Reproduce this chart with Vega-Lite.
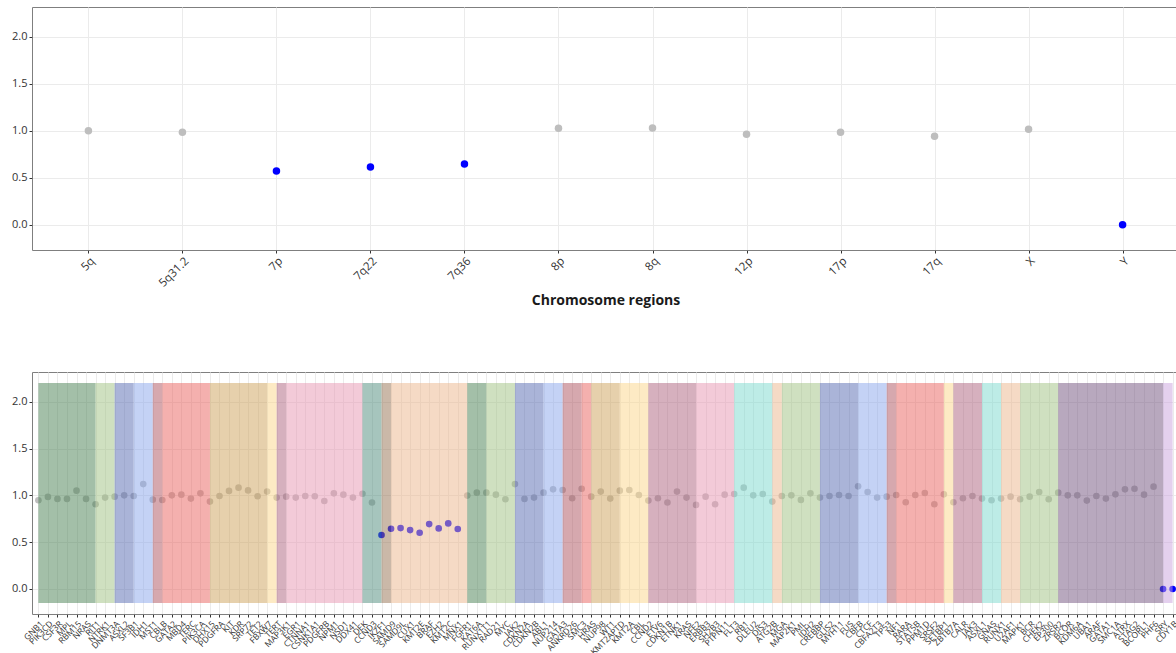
{
  "$schema": "https://vega.github.io/schema/vega-lite/v6.json",
  "padding": {"left": 5, "top": 6, "right": 0, "bottom": 0},
  "background": "white",
  "spacing": 62,
  "datasets": {
    "regions": [
      {"region": "5q", "cn": 1.0, "status": "normal"},
      {"region": "5q31.2", "cn": 0.985, "status": "normal"},
      {"region": "7p", "cn": 0.573, "status": "altered"},
      {"region": "7q22", "cn": 0.616, "status": "altered"},
      {"region": "7q36", "cn": 0.647, "status": "altered"},
      {"region": "8p", "cn": 1.027, "status": "normal"},
      {"region": "8q", "cn": 1.03, "status": "normal"},
      {"region": "12p", "cn": 0.964, "status": "normal"},
      {"region": "17p", "cn": 0.985, "status": "normal"},
      {"region": "17q", "cn": 0.943, "status": "normal"},
      {"region": "X", "cn": 1.017, "status": "normal"},
      {"region": "Y", "cn": 0.0, "status": "altered"}
    ],
    "genes": [
      {"gene": "GNB1", "cn": 0.947, "status": "normal"},
      {"gene": "PIK3CD", "cn": 0.983, "status": "normal"},
      {"gene": "CSF3R", "cn": 0.962, "status": "normal"},
      {"gene": "MPL", "cn": 0.962, "status": "normal"},
      {"gene": "RBM15", "cn": 1.05, "status": "normal"},
      {"gene": "NRAS", "cn": 0.962, "status": "normal"},
      {"gene": "RIT1", "cn": 0.905, "status": "normal"},
      {"gene": "NTRK1", "cn": 0.976, "status": "normal"},
      {"gene": "DNMT3A", "cn": 0.986, "status": "normal"},
      {"gene": "ASXL2", "cn": 1.0, "status": "normal"},
      {"gene": "SF3B1", "cn": 0.993, "status": "normal"},
      {"gene": "IDH1", "cn": 1.12, "status": "normal"},
      {"gene": "MST1", "cn": 0.954, "status": "normal"},
      {"gene": "CBLB", "cn": 0.95, "status": "normal"},
      {"gene": "GATA2", "cn": 1.0, "status": "normal"},
      {"gene": "MBD4", "cn": 1.007, "status": "normal"},
      {"gene": "TERC", "cn": 0.965, "status": "normal"},
      {"gene": "PIK3CA", "cn": 1.021, "status": "normal"},
      {"gene": "DHX15", "cn": 0.933, "status": "normal"},
      {"gene": "PDGFRA", "cn": 0.993, "status": "normal"},
      {"gene": "KIT", "cn": 1.047, "status": "normal"},
      {"gene": "KDR", "cn": 1.082, "status": "normal"},
      {"gene": "SRP72", "cn": 1.053, "status": "normal"},
      {"gene": "TET2", "cn": 0.99, "status": "normal"},
      {"gene": "FBXW7", "cn": 1.04, "status": "normal"},
      {"gene": "TERT", "cn": 0.976, "status": "normal"},
      {"gene": "MAP3K1", "cn": 0.986, "status": "normal"},
      {"gene": "EGR1", "cn": 0.976, "status": "normal"},
      {"gene": "CTNNA1", "cn": 0.993, "status": "normal"},
      {"gene": "CSNK1A1", "cn": 0.99, "status": "normal"},
      {"gene": "PDGFRB", "cn": 0.94, "status": "normal"},
      {"gene": "NPM1", "cn": 1.021, "status": "normal"},
      {"gene": "NSD1", "cn": 1.007, "status": "normal"},
      {"gene": "DDX41", "cn": 0.976, "status": "normal"},
      {"gene": "DEK", "cn": 1.017, "status": "normal"},
      {"gene": "CCND3", "cn": 0.923, "status": "normal"},
      {"gene": "IKZF1", "cn": 0.576, "status": "altered"},
      {"gene": "SAMD9", "cn": 0.643, "status": "altered"},
      {"gene": "SAMD9L", "cn": 0.65, "status": "altered"},
      {"gene": "CUX1", "cn": 0.629, "status": "altered"},
      {"gene": "KMT2E", "cn": 0.601, "status": "altered"},
      {"gene": "BRAF", "cn": 0.693, "status": "altered"},
      {"gene": "EZH2", "cn": 0.647, "status": "altered"},
      {"gene": "KMT2C", "cn": 0.7, "status": "altered"},
      {"gene": "MNX1", "cn": 0.64, "status": "altered"},
      {"gene": "FGFR1", "cn": 0.997, "status": "normal"},
      {"gene": "KAT6A", "cn": 1.029, "status": "normal"},
      {"gene": "RUNX1T1", "cn": 1.029, "status": "normal"},
      {"gene": "RAD21", "cn": 1.007, "status": "normal"},
      {"gene": "MYC", "cn": 0.958, "status": "normal"},
      {"gene": "JAK2", "cn": 1.12, "status": "normal"},
      {"gene": "CDKN2A", "cn": 0.962, "status": "normal"},
      {"gene": "CDKN2B", "cn": 0.976, "status": "normal"},
      {"gene": "ABL1", "cn": 1.029, "status": "normal"},
      {"gene": "NUP214", "cn": 1.064, "status": "normal"},
      {"gene": "GATA3", "cn": 1.057, "status": "normal"},
      {"gene": "ANKRD26", "cn": 0.969, "status": "normal"},
      {"gene": "SMC3", "cn": 1.071, "status": "normal"},
      {"gene": "HRAS", "cn": 0.986, "status": "normal"},
      {"gene": "NUP98", "cn": 1.04, "status": "normal"},
      {"gene": "WT1", "cn": 0.965, "status": "normal"},
      {"gene": "KMT2APTD", "cn": 1.05, "status": "normal"},
      {"gene": "KMT2A", "cn": 1.057, "status": "normal"},
      {"gene": "CBL", "cn": 1.004, "status": "normal"},
      {"gene": "CCND2", "cn": 0.944, "status": "normal"},
      {"gene": "ETV6", "cn": 0.969, "status": "normal"},
      {"gene": "CDKN1B", "cn": 0.923, "status": "normal"},
      {"gene": "ETNK1", "cn": 1.04, "status": "normal"},
      {"gene": "KRAS", "cn": 0.976, "status": "normal"},
      {"gene": "NFE2", "cn": 0.898, "status": "normal"},
      {"gene": "ERBB3", "cn": 0.986, "status": "normal"},
      {"gene": "SH2B3", "cn": 0.905, "status": "normal"},
      {"gene": "PTPN11", "cn": 1.007, "status": "normal"},
      {"gene": "FLT3", "cn": 1.014, "status": "normal"},
      {"gene": "RB1", "cn": 1.082, "status": "normal"},
      {"gene": "DLEU2", "cn": 1.0, "status": "normal"},
      {"gene": "DIS3", "cn": 1.014, "status": "normal"},
      {"gene": "ATG2B", "cn": 0.933, "status": "normal"},
      {"gene": "MGA", "cn": 0.993, "status": "normal"},
      {"gene": "MAP2K1", "cn": 1.0, "status": "normal"},
      {"gene": "PML", "cn": 0.951, "status": "normal"},
      {"gene": "IDH2", "cn": 1.021, "status": "normal"},
      {"gene": "CREBBP", "cn": 0.976, "status": "normal"},
      {"gene": "GLIS2", "cn": 0.993, "status": "normal"},
      {"gene": "MYH11", "cn": 1.004, "status": "normal"},
      {"gene": "FUS", "cn": 0.993, "status": "normal"},
      {"gene": "CBFB", "cn": 1.096, "status": "normal"},
      {"gene": "CTCF", "cn": 1.036, "status": "normal"},
      {"gene": "CBFA2T3", "cn": 0.976, "status": "normal"},
      {"gene": "TP53", "cn": 0.986, "status": "normal"},
      {"gene": "NF1", "cn": 1.004, "status": "normal"},
      {"gene": "RARA", "cn": 0.926, "status": "normal"},
      {"gene": "STAT5B", "cn": 1.004, "status": "normal"},
      {"gene": "PPM1D", "cn": 1.025, "status": "normal"},
      {"gene": "SRSF2", "cn": 0.905, "status": "normal"},
      {"gene": "SETBP1", "cn": 1.011, "status": "normal"},
      {"gene": "ZBTB7A", "cn": 0.926, "status": "normal"},
      {"gene": "CALR", "cn": 0.969, "status": "normal"},
      {"gene": "JAK3", "cn": 0.993, "status": "normal"},
      {"gene": "ASXL1", "cn": 0.965, "status": "normal"},
      {"gene": "GNAS", "cn": 0.947, "status": "normal"},
      {"gene": "RUNX1", "cn": 0.965, "status": "normal"},
      {"gene": "U2AF1", "cn": 0.986, "status": "normal"},
      {"gene": "MAPK1", "cn": 0.958, "status": "normal"},
      {"gene": "BCR", "cn": 0.986, "status": "normal"},
      {"gene": "CHEK2", "cn": 1.036, "status": "normal"},
      {"gene": "EP300", "cn": 0.958, "status": "normal"},
      {"gene": "ZRSR2", "cn": 1.029, "status": "normal"},
      {"gene": "BCOR", "cn": 1.0, "status": "normal"},
      {"gene": "KDM6A", "cn": 1.0, "status": "normal"},
      {"gene": "UBA1", "cn": 0.944, "status": "normal"},
      {"gene": "ARAF", "cn": 0.993, "status": "normal"},
      {"gene": "GATA1", "cn": 0.965, "status": "normal"},
      {"gene": "SMC1A", "cn": 1.011, "status": "normal"},
      {"gene": "ATRX", "cn": 1.064, "status": "normal"},
      {"gene": "STAG2", "cn": 1.071, "status": "normal"},
      {"gene": "BCORL1", "cn": 1.007, "status": "normal"},
      {"gene": "PHF6", "cn": 1.093, "status": "normal"},
      {"gene": "SRY", "cn": 0.0, "status": "altered"},
      {"gene": "CDY1B", "cn": 0.0, "status": "altered"}
    ],
    "arms": [
      {"arm": "1p", "start": "GNB1", "end": "RIT1", "tone": "green_dark"},
      {"arm": "1q", "start": "RIT1", "end": "DNMT3A", "tone": "green_light"},
      {"arm": "2p", "start": "DNMT3A", "end": "SF3B1", "tone": "blue_dark"},
      {"arm": "2q", "start": "SF3B1", "end": "MST1", "tone": "blue_light"},
      {"arm": "3p", "start": "MST1", "end": "CBLB", "tone": "rose"},
      {"arm": "3q", "start": "CBLB", "end": "DHX15", "tone": "salmon"},
      {"arm": "4p", "start": "DHX15", "end": "FBXW7", "tone": "tan"},
      {"arm": "4q", "start": "FBXW7", "end": "TERT", "tone": "yellow"},
      {"arm": "5p", "start": "TERT", "end": "MAP3K1", "tone": "mauve"},
      {"arm": "5q", "start": "MAP3K1", "end": "DEK", "tone": "pink"},
      {"arm": "6p", "start": "DEK", "end": "IKZF1", "tone": "teal"},
      {"arm": "7p", "start": "IKZF1", "end": "SAMD9", "tone": "brown"},
      {"arm": "7q", "start": "SAMD9", "end": "FGFR1", "tone": "peach"},
      {"arm": "8p", "start": "FGFR1", "end": "RUNX1T1", "tone": "green_dark"},
      {"arm": "8q", "start": "RUNX1T1", "end": "JAK2", "tone": "green_light"},
      {"arm": "9p", "start": "JAK2", "end": "ABL1", "tone": "blue_dark"},
      {"arm": "9q", "start": "ABL1", "end": "GATA3", "tone": "blue_light"},
      {"arm": "10p", "start": "GATA3", "end": "SMC3", "tone": "rose"},
      {"arm": "10q", "start": "SMC3", "end": "HRAS", "tone": "salmon"},
      {"arm": "11p", "start": "HRAS", "end": "KMT2APTD", "tone": "tan"},
      {"arm": "11q", "start": "KMT2APTD", "end": "CCND2", "tone": "yellow"},
      {"arm": "12p", "start": "CCND2", "end": "NFE2", "tone": "mauve"},
      {"arm": "12q", "start": "NFE2", "end": "FLT3", "tone": "pink"},
      {"arm": "13q", "start": "FLT3", "end": "ATG2B", "tone": "cyan"},
      {"arm": "14q", "start": "ATG2B", "end": "MGA", "tone": "peach"},
      {"arm": "15q", "start": "MGA", "end": "CREBBP", "tone": "green_light"},
      {"arm": "16p", "start": "CREBBP", "end": "CBFB", "tone": "blue_dark"},
      {"arm": "16q", "start": "CBFB", "end": "TP53", "tone": "blue_light"},
      {"arm": "17p", "start": "TP53", "end": "NF1", "tone": "rose"},
      {"arm": "17q", "start": "NF1", "end": "SETBP1", "tone": "salmon"},
      {"arm": "18q", "start": "SETBP1", "end": "ZBTB7A", "tone": "yellow"},
      {"arm": "19p", "start": "ZBTB7A", "end": "ASXL1", "tone": "mauve"},
      {"arm": "20q", "start": "ASXL1", "end": "RUNX1", "tone": "cyan"},
      {"arm": "21q", "start": "RUNX1", "end": "MAPK1", "tone": "peach"},
      {"arm": "22q", "start": "MAPK1", "end": "ZRSR2", "tone": "green_light"},
      {"arm": "X", "start": "ZRSR2", "end": "SRY", "tone": "purple"},
      {"arm": "Y", "start": "SRY", "end": "CDY1B", "tone": "lavender"}
    ]
  },
  "vconcat": [
    {
      "width": 1147,
      "height": 243,
      "data": {"name": "regions"},
      "mark": {"type": "point", "filled": true, "opacity": 1, "size": 56},
      "encoding": {
        "x": {
          "field": "region", "type": "nominal", "sort": null,
          "scale": {"type": "point", "padding": 0.6},
          "axis": {"labelAngle": -45, "labelFontSize": 11.5, "labelColor": "#333333", "title": "Chromosome regions", "titleFontSize": 14, "titleFontWeight": "bold", "titleColor": "#1a1a1a", "titlePadding": 5}
        },
        "y": {
          "field": "cn", "type": "quantitative",
          "scale": {"domain": [-0.2675, 2.3175], "nice": false, "zero": false},
          "axis": {"values": [0, 0.5, 1, 1.5, 2], "format": ".1f", "title": null}
        },
        "color": {
          "field": "status", "type": "nominal",
          "scale": {"domain": ["normal", "altered"], "range": ["#bebebe", "#0000ff"]},
          "legend": null
        }
      }
    },
    {
      "width": 1147,
      "height": 242,
      "layer": [
        {
          "data": {"name": "genes"},
          "mark": {"type": "point", "filled": true, "opacity": 1, "size": 44},
          "encoding": {
            "x": {"field": "gene", "type": "nominal"},
            "y": {"field": "cn", "type": "quantitative"},
            "color": {
              "field": "status", "type": "nominal",
              "scale": {"domain": ["normal", "altered"], "range": ["#bebebe", "#0000ff"]},
              "legend": null
            }
          }
        },
        {
          "data": {"name": "arms"},
          "mark": {"type": "rect", "opacity": 0.5},
          "encoding": {
            "x": {"field": "start", "type": "nominal"},
            "x2": {"field": "end"},
            "y": {"datum": -0.15, "type": "quantitative"},
            "y2": {"datum": 2.2},
            "fill": {
              "field": "tone", "type": "nominal", "legend": null,
              "scale": {
                "domain": ["green_dark", "green_light", "blue_dark", "blue_light", "rose", "salmon", "tan", "yellow", "mauve", "pink", "teal", "cyan", "brown", "peach", "purple", "lavender"],
                "range": ["#477F51", "#9FC181", "#5569B1", "#89A5EB", "#AD515D", "#E9615D", "#CDA159", "#FBD589", "#AD617D", "#E795B1", "#4D8B7B", "#7BD9CD", "#957151", "#EBB58B", "#71517D", "#C9A1DD"]
              }
            }
          }
        }
      ],
      "resolve": {"scale": {"color": "independent"}},
      "encoding": {
        "x": {
          "type": "nominal",
          "scale": {
            "type": "point", "padding": 0.67,
            "domain": ["GNB1","PIK3CD","CSF3R","MPL","RBM15","NRAS","RIT1","NTRK1","DNMT3A","ASXL2","SF3B1","IDH1","MST1","CBLB","GATA2","MBD4","TERC","PIK3CA","DHX15","PDGFRA","KIT","KDR","SRP72","TET2","FBXW7","TERT","MAP3K1","EGR1","CTNNA1","CSNK1A1","PDGFRB","NPM1","NSD1","DDX41","DEK","CCND3","IKZF1","SAMD9","SAMD9L","CUX1","KMT2E","BRAF","EZH2","KMT2C","MNX1","FGFR1","KAT6A","RUNX1T1","RAD21","MYC","JAK2","CDKN2A","CDKN2B","ABL1","NUP214","GATA3","ANKRD26","SMC3","HRAS","NUP98","WT1","KMT2APTD","KMT2A","CBL","CCND2","ETV6","CDKN1B","ETNK1","KRAS","NFE2","ERBB3","SH2B3","PTPN11","FLT3","RB1","DLEU2","DIS3","ATG2B","MGA","MAP2K1","PML","IDH2","CREBBP","GLIS2","MYH11","FUS","CBFB","CTCF","CBFA2T3","TP53","NF1","RARA","STAT5B","PPM1D","SRSF2","SETBP1","ZBTB7A","CALR","JAK3","ASXL1","GNAS","RUNX1","U2AF1","MAPK1","BCR","CHEK2","EP300","ZRSR2","BCOR","KDM6A","UBA1","ARAF","GATA1","SMC1A","ATRX","STAG2","BCORL1","PHF6","SRY","CDY1B"]
          },
          "axis": {"labelAngle": -45, "labelFontSize": 8.5, "labelColor": "#333333", "title": null, "labelOverlap": false}
        },
        "y": {
          "type": "quantitative",
          "scale": {"domain": [-0.2675, 2.3175], "nice": false, "zero": false},
          "axis": {"values": [0, 0.5, 1, 1.5, 2], "format": ".1f", "title": null}
        }
      }
    }
  ],
  "config": {
    "font": "Open Sans",
    "view": {"stroke": "#7f7f7f", "strokeWidth": 1},
    "axis": {
      "grid": true, "gridColor": "#ebebeb", "gridWidth": 1,
      "domain": false, "tickColor": "#333333", "tickSize": 3,
      "labelColor": "#4d4d4d", "labelFont": "Open Sans", "labelFontSize": 11,
      "labelPadding": 2, "titleFont": "Open Sans"
    },
    "axisY": {"minExtent": 26, "maxExtent": 26, "labelColor": "#333333"}
  }
}
